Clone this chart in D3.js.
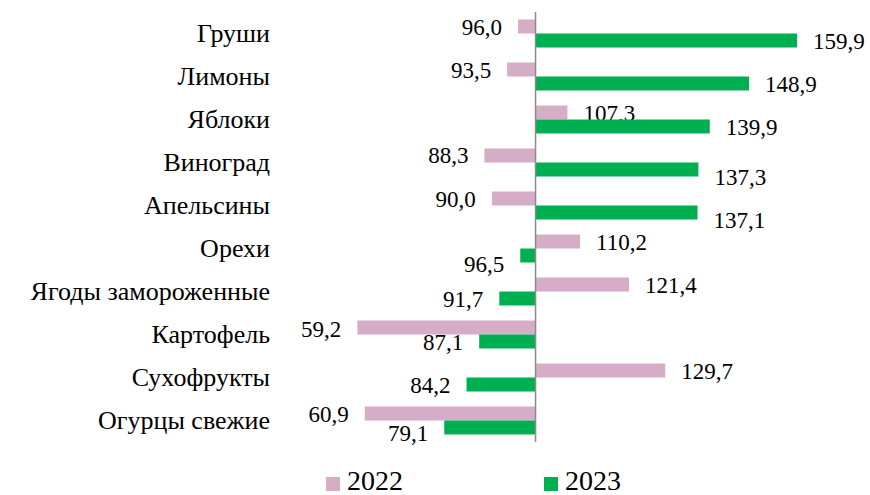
<!DOCTYPE html>
<html><head><meta charset="utf-8">
<script src="https://cdn.jsdelivr.net/npm/d3@7"></script>
<style>body{margin:0;background:#fff}svg{display:block}</style>
</head><body><svg id="c" width="870" height="495"></svg>
<script>
const categories = ["Груши","Лимоны","Яблоки","Виноград","Апельсины","Орехи","Ягоды замороженные","Картофель","Сухофрукты","Огурцы свежие"];
const values2022 = [96.0,93.5,107.3,88.3,90.0,110.2,121.4,59.2,129.7,60.9];
const values2023 = [159.9,148.9,139.9,137.3,137.1,96.5,91.7,87.1,84.2,79.1];
const seriesNames = ["2022","2023"];
const baseline = 100;

// label vertical nudges (layout only)
const nudge2023 = [1,1,1,8,8,9,1,1,1,6];
const nudge2022 = [1,1,1,0,1,1,1,2,1,1];

const FONT = "Times New Roman";
const colors = ["#D6ADC6","#00B050"];
const svg = d3.select("#c");
const x = d3.scaleLinear().domain([50,170]).range([317.2,841.2]);
const y = d3.scaleBand().domain(categories).range([12,442]).paddingInner(0.349).paddingOuter(0.1745);
const sub = d3.scaleBand().domain(seriesNames).range([0,y.bandwidth()]);
const fmt = v => v.toFixed(1).replace(".", ",");
const series = [values2022, values2023];
const nudges = [nudge2022, nudge2023];

// category labels
const yAxis = d3.axisLeft(y).tickSize(0).tickPadding(0);
const ag = svg.append("g").attr("transform","translate(270,0)").call(yAxis);
ag.select(".domain").remove();
ag.attr("font-family",FONT).attr("font-size",26);
ag.selectAll("text").attr("fill","#000").attr("dy",null).attr("y",0.34*26);

series.forEach((vals,si)=>{
  const g = svg.append("g");
  g.selectAll("rect").data(vals).join("rect")
    .attr("x",(v)=>x(Math.min(v,baseline)))
    .attr("width",(v)=>Math.abs(x(v)-x(baseline)))
    .attr("y",(v,i)=>y(categories[i])+sub(seriesNames[si]))
    .attr("height",sub.bandwidth())
    .attr("fill",colors[si]);
  const fs = 23;
  g.selectAll("text").data(vals).join("text")
    .attr("x",v=>v>=baseline? x(v)+16 : x(v)-16)
    .attr("y",(v,i)=>y(categories[i])+sub(seriesNames[si])+sub.bandwidth()/2+nudges[si][i]+0.34*fs)
    .attr("font-family",FONT).attr("font-size",fs)
    .attr("text-anchor",v=>v>=baseline?"start":"end")
    .text(fmt);
});

// axis line at baseline
svg.append("line").attr("x1",x(baseline)).attr("x2",x(baseline))
  .attr("y1",12).attr("y2",442).attr("stroke","#8c8c8c").attr("stroke-width",1.5);

// legend
const legX = [326,544];
seriesNames.forEach((n,i)=>{
  svg.append("rect").attr("x",legX[i]).attr("y",477).attr("width",14).attr("height",14).attr("fill",colors[i]);
  svg.append("text").attr("x",legX[i]+21).attr("y",490)
    .attr("font-family",FONT).attr("font-size",28).text(n);
});
</script></body></html>
